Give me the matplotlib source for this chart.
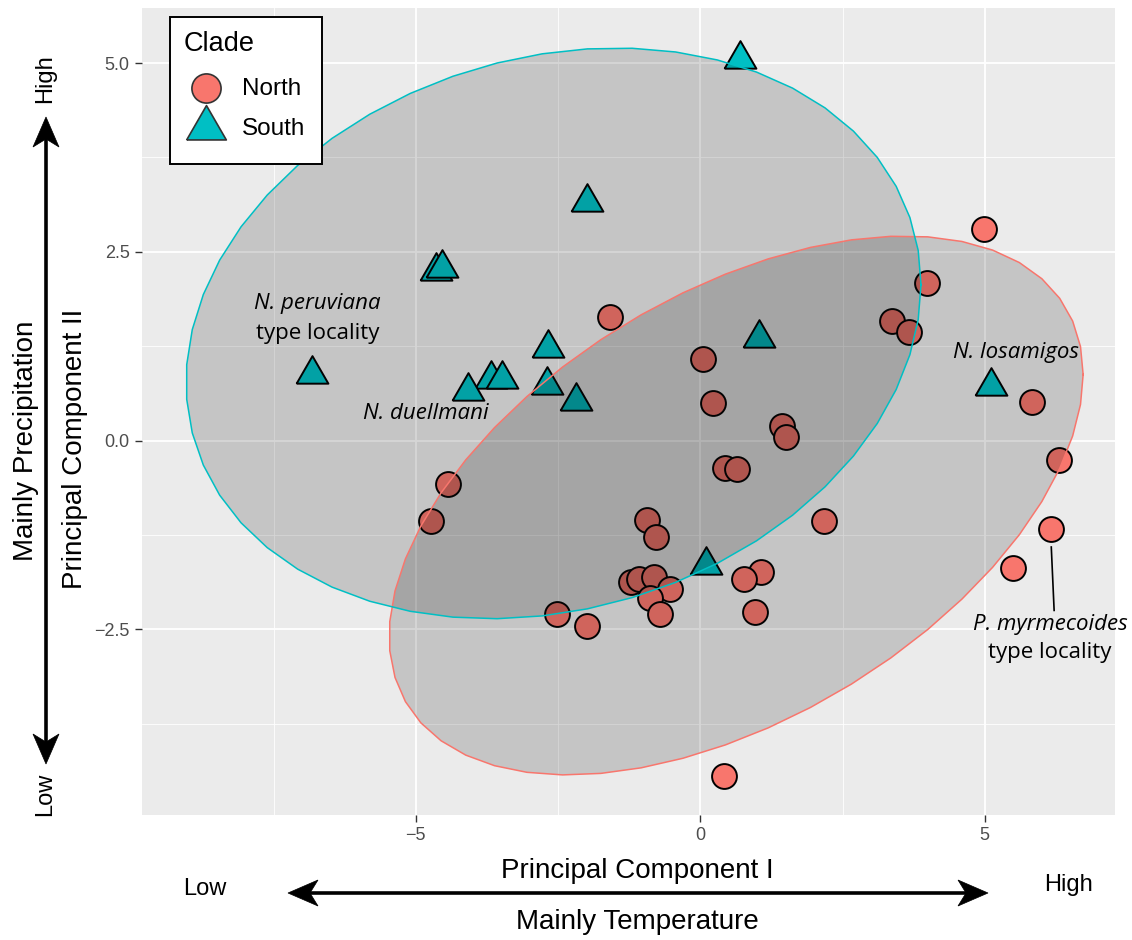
import numpy as np
import matplotlib
matplotlib.use("Agg")
import matplotlib.pyplot as plt
from matplotlib.patches import Polygon, Rectangle
from matplotlib.lines import Line2D

# ---------------- data ----------------
clades = ["North", "South"]

north_x = [4.99, 3.99, 3.37, 3.67, -1.59, 0.05, 0.23, 5.83, 1.43, 1.51, 6.30, 0.43,
           0.65, -4.44, -4.74, -0.94, -0.78, 2.17, 6.17, 5.49, 1.06, 0.77, -1.22,
           -1.07, -0.81, -0.53, -0.89, -0.70, 0.97, -2.52, -2.00, 0.41]
north_y = [2.80, 2.09, 1.58, 1.44, 1.64, 1.08, 0.50, 0.51, 0.19, 0.05, -0.26, -0.36,
           -0.38, -0.57, -1.06, -1.05, -1.28, -1.07, -1.17, -1.69, -1.74, -1.83, -1.87,
           -1.83, -1.81, -1.97, -2.08, -2.30, -2.27, -2.30, -2.46, -4.45]
south_x = [0.70, -1.99, -4.65, -4.54, -6.82, -2.67, -3.68, -3.48, -4.09, -2.70,
           -2.18, 1.04, 0.10, 5.11]
south_y = [5.05, 3.16, 2.25, 2.29, 0.88, 1.23, 0.81, 0.81, 0.65, 0.74,
           0.52, 1.36, -1.65, 0.72]

# 95% confidence ellipses per clade (North, South): centre and shape matrix
ell_cx = [0.63, -2.58]
ell_cy = [-0.86, 1.42]
ell_sxx = [37.21, 41.73]
ell_syy = [12.74, 14.29]
ell_sxy = [10.58, 4.17]

x_ticks = [-5, 0, 5]
x_tick_labels = ["\u22125", "0", "5"]
y_ticks = [-2.5, 0.0, 2.5, 5.0]
y_tick_labels = ["\u22122.5", "0.0", "2.5", "5.0"]

COL_N = "#F8766D"
COL_S = "#00BFC4"

W, H = 1132, 940
fig = plt.figure(figsize=(W / 100, H / 100), dpi=100)
fig.patch.set_facecolor("white")


def fx(px):
    return px / W


def fy(py):
    return 1 - py / H


ax = fig.add_axes([fx(142.2), fy(815), fx(1115) - fx(142.2), fy(8) - fy(815)])
ax.set_facecolor("#EBEBEB")
ax.set_xlim(-9.81, 7.29)
ax.set_ylim(-4.96, 5.73)
for s in ax.spines.values():
    s.set_visible(False)

# grid
for v in [-7.5, -2.5, 2.5]:
    ax.axvline(v, color="white", lw=0.6, zorder=0)
for v in [-3.75, -1.25, 1.25, 3.75]:
    ax.axhline(v, color="white", lw=0.6, zorder=0)
for v in x_ticks:
    ax.axvline(v, color="white", lw=1.3, zorder=0)
for v in y_ticks:
    ax.axhline(v, color="white", lw=1.3, zorder=0)

ax.set_xticks(x_ticks)
ax.set_xticklabels(x_tick_labels)
ax.set_yticks(y_ticks)
ax.set_yticklabels(y_tick_labels)
ax.tick_params(axis="both", colors="#333333", length=5, width=1.0,
               labelsize=13, labelcolor="#4D4D4D", pad=4)
for lab in ax.get_xticklabels() + ax.get_yticklabels():
    lab.set_family("Liberation Sans")

# triangle marker (equilateral, centred on centroid)
tri = [(-1, -0.577), (1, -0.577), (0, 1.155), (-1, -0.577)]

ax.scatter(north_x, north_y, s=320, marker="o", facecolor=COL_N,
           edgecolor="black", linewidth=1.4, zorder=3)
ax.scatter(south_x, south_y, s=700, marker=tri, facecolor=COL_S,
           edgecolor="black", linewidth=1.4, zorder=3)

# ellipses drawn over the points
ang = np.arange(52) * 2 * np.pi / 51
circ = np.column_stack([np.cos(ang), np.sin(ang)])
for i, col in enumerate([COL_N, COL_S]):
    M = np.array([[ell_sxx[i], ell_sxy[i]], [ell_sxy[i], ell_syy[i]]])
    R = np.linalg.cholesky(M).T
    e = np.array([ell_cx[i], ell_cy[i]]) + circ @ R
    ax.add_patch(Polygon(e, closed=True, facecolor=(0.05, 0.05, 0.05, 0.17),
                         edgecolor="none", zorder=4))
    ax.plot(e[:, 0], e[:, 1], color=col, lw=1.1, zorder=5)

# annotations
afont = dict(family=["Open Sans", "DejaVu Sans"], fontsize=16, color="black", zorder=6)
ax.text(-6.73, 1.81, "N. peruviana", style="italic", ha="center", va="center", **afont)
ax.text(-6.73, 1.42, "type locality", ha="center", va="center", **afont)
ax.text(-4.82, 0.36, "N. duellmani", style="italic", ha="center", va="center", **afont)
ax.text(5.55, 1.16, "N. losamigos", style="italic", ha="center", va="center", **afont)
ax.text(6.15, -2.44, "P. myrmecoides", style="italic", ha="center", va="center", **afont)
ax.text(6.15, -2.81, "type locality", ha="center", va="center", **afont)
ax.plot([6.17, 6.22], [-1.41, -2.25], color="black", lw=1.2, zorder=6)

# legend (drawn as a keyed box)
fig.add_artist(Rectangle((fx(170), fy(164)), fx(322) - fx(170), fy(17) - fy(164),
                         transform=fig.transFigure, facecolor="white",
                         edgecolor="black", lw=1.4, zorder=10))
lf = dict(family="Liberation Sans", color="black", zorder=11)
fig.text(fx(184), fy(44), "Clade", ha="left", va="center", fontsize=19.5, **lf)
fig.add_artist(Line2D([fx(205.7)], [fy(88)], marker="o", markersize=21,
                      markerfacecolor=COL_N, markeredgecolor="#333333",
                      markeredgewidth=1.2, transform=fig.transFigure, zorder=11))
fig.add_artist(Line2D([fx(205.5)], [fy(128)], marker=tri, markersize=33,
                      markerfacecolor=COL_S, markeredgecolor="#333333",
                      markeredgewidth=1.2, transform=fig.transFigure, zorder=11))
fig.text(fx(242), fy(89), clades[0], ha="left", va="center", fontsize=17.5, **lf)
fig.text(fx(242), fy(129), clades[1], ha="left", va="center", fontsize=17.5, **lf)

# outer labels
tf = dict(family="Liberation Sans", color="black")
fig.text(fx(637), fy(871), "Principal Component I", ha="center", va="center", fontsize=20, **tf)
fig.text(fx(637), fy(922), "Mainly Temperature", ha="center", va="center", fontsize=20, **tf)
fig.text(fx(205), fy(889), "Low", ha="center", va="center", fontsize=17, **tf)
fig.text(fx(1068), fy(885), "High", ha="center", va="center", fontsize=17, **tf)
fig.text(fx(75), fy(449), "Principal Component II", ha="center", va="center",
         rotation=90, fontsize=20, **tf)
fig.text(fx(26), fy(441), "Mainly Precipitation", ha="center", va="center",
         rotation=90, fontsize=20, **tf)
fig.text(fx(45), fy(79), "High", ha="center", va="center", rotation=90, fontsize=17, **tf)
fig.text(fx(45), fy(794), "Low", ha="center", va="center", rotation=90, fontsize=17, **tf)


def head(tip, direction, length=30, width=26, notch=8):
    tx, ty = tip
    dx, dy = direction
    px_, py_ = -dy, dx
    pts = [
        (tx, ty),
        (tx - dx * length + px_ * width / 2, ty - dy * length + py_ * width / 2),
        (tx - dx * (length - notch), ty - dy * (length - notch)),
        (tx - dx * length - px_ * width / 2, ty - dy * length - py_ * width / 2),
    ]
    fig.patches.append(Polygon([(fx(a), fy(b)) for a, b in pts], closed=True,
                               transform=fig.transFigure, facecolor="black",
                               edgecolor="black", lw=0.5))


# horizontal arrow
fig.lines.append(Line2D([fx(300), fx(975)], [fy(893), fy(893)], color="black",
                        lw=2.6, transform=fig.transFigure))
head((288, 893), (-1, 0))
head((988, 893), (1, 0))
# vertical arrow
fig.lines.append(Line2D([fx(46), fx(46)], [fy(130), fy(750)], color="black",
                        lw=2.6, transform=fig.transFigure))
head((46, 117), (0, -1))
head((46, 764), (0, 1))

fig.savefig("out.png", dpi=100)
